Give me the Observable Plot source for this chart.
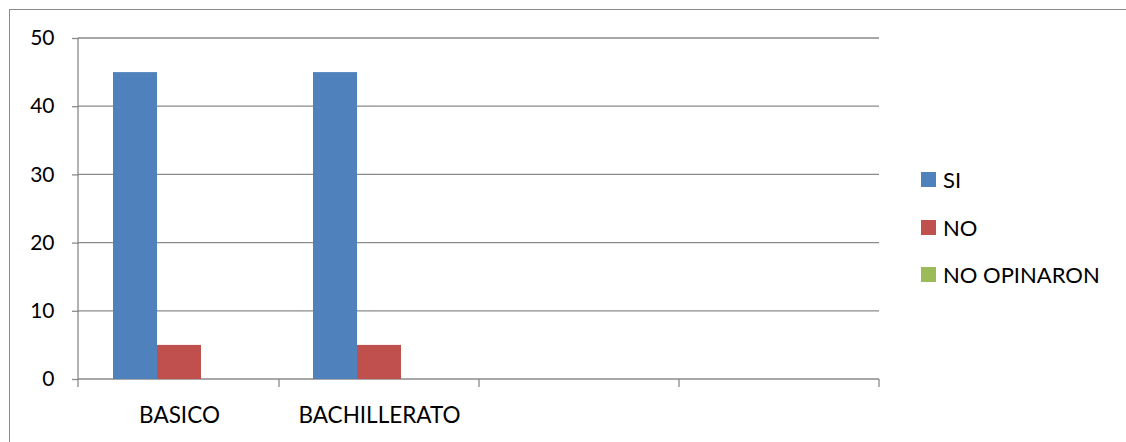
<!DOCTYPE html>
<html>
<head>
<meta charset="utf-8">
<script src="https://cdn.jsdelivr.net/npm/d3@7"></script>
<script src="https://cdn.jsdelivr.net/npm/@observablehq/plot@0.6"></script>
<style>
  html, body { margin: 0; padding: 0; background: #fff; }
  #wrap { position: relative; width: 1126px; height: 442px; overflow: hidden; font-family: Lato, "Liberation Sans", sans-serif; }
  #border { position: absolute; left: 9px; top: 9px; width: 1140px; height: 460px; border: 1.5px solid #8a8a8a; box-sizing: border-box; }
  #chart { position: absolute; left: 0; top: 0; }
  #legend { position: absolute; left: 921px; top: 172px; }
  .item { display: flex; align-items: center; height: 15px; margin-bottom: 32.5px; font-size: 22px; color: #000; }
  .sw { width: 15px; height: 15px; margin-right: 7px; flex: none; }
</style>
</head>
<body>
<div id="wrap">
  <div id="border"></div>
  <div id="chart"></div>
  <div id="legend"></div>
</div>
<script>
const categoryLabels = ["BASICO", "BACHILLERATO", "", ""];
const seriesNames = ["SI", "NO", "NO OPINARON"];
const seriesColors = ["#4F81BD", "#C0504D", "#9BBB59"];
const siValues = [45, 45, null, null];
const noValues = [5, 5, null, null];
const noOpinaronValues = [0, 0, null, null];
const yTicks = [0, 10, 20, 30, 40, 50];

const seriesValues = [siValues, noValues, noOpinaronValues];
const rows = [];
categoryLabels.forEach((c, i) => {
  seriesNames.forEach((s, j) => {
    const v = seriesValues[j][i];
    if (v != null) rows.push({cat: i, serie: s, value: v});
  });
});

const W = 1126, H = 442;
const grid = "#8a8a8a";
const catIdx = d3.range(categoryLabels.length);
const plot = Plot.plot({
  width: W,
  height: H,
  marginLeft: 78,
  marginRight: 247,
  marginTop: 38,
  marginBottom: 63,
  style: {fontFamily: "Lato, 'Liberation Sans', sans-serif", fontSize: "21px", color: "#000", background: "transparent"},
  fx: {domain: catIdx, padding: 0, label: null, axis: null},
  x: {domain: seriesNames, paddingInner: 0, paddingOuter: 0.76, axis: null},
  y: {domain: [0, 50], ticks: yTicks, label: null, axis: null},
  color: {domain: seriesNames, range: seriesColors},
  marks: [
    Plot.barY(rows, {fx: "cat", x: "serie", y: "value", fill: "serie", inset: 0}),
    Plot.axisY(yTicks, {anchor: "left", tickSize: 7, tickPadding: 18, stroke: grid, strokeWidth: 1.3, fill: "#000", fontSize: 21, tickFormat: d => String(d)}),
    Plot.axisFx({anchor: "bottom", tickSize: 0, tickPadding: 28, fontSize: 22.5, fill: "#000", tickFormat: i => categoryLabels[i], label: null})
  ]
});
document.getElementById("chart").appendChild(plot);

// gridlines, axis line and category boundary ticks from the library scales
const fx = plot.scale("fx");
const y = plot.scale("y");
const svg = d3.select(plot);
const xStart = fx.range[0], xEnd = fx.range[1];
const gg = svg.insert("g", "g").attr("stroke", grid).attr("stroke-width", 1.3);
yTicks.forEach(t => {
  const yy = y.apply(t);
  gg.append("line").attr("x1", xStart).attr("x2", xEnd).attr("y1", yy).attr("y2", yy);
});
const g = svg.append("g").attr("stroke", grid).attr("stroke-width", 1.3);
const y0 = y.apply(0), y1 = y.apply(50);
g.append("line").attr("x1", xStart).attr("x2", xStart).attr("y1", y1).attr("y2", y0 + 8);
fx.domain.forEach(d => {
  const xe = fx.apply(d) + fx.bandwidth;
  g.append("line").attr("x1", xe).attr("x2", xe).attr("y1", y0).attr("y2", y0 + 8);
});

// legend
const leg = document.getElementById("legend");
seriesNames.forEach((s, i) => {
  const it = document.createElement("div");
  it.className = "item";
  const sw = document.createElement("span");
  sw.className = "sw";
  sw.style.background = seriesColors[i];
  const t = document.createElement("span");
  t.textContent = s;
  it.appendChild(sw);
  it.appendChild(t);
  leg.appendChild(it);
});
</script>
</body>
</html>
